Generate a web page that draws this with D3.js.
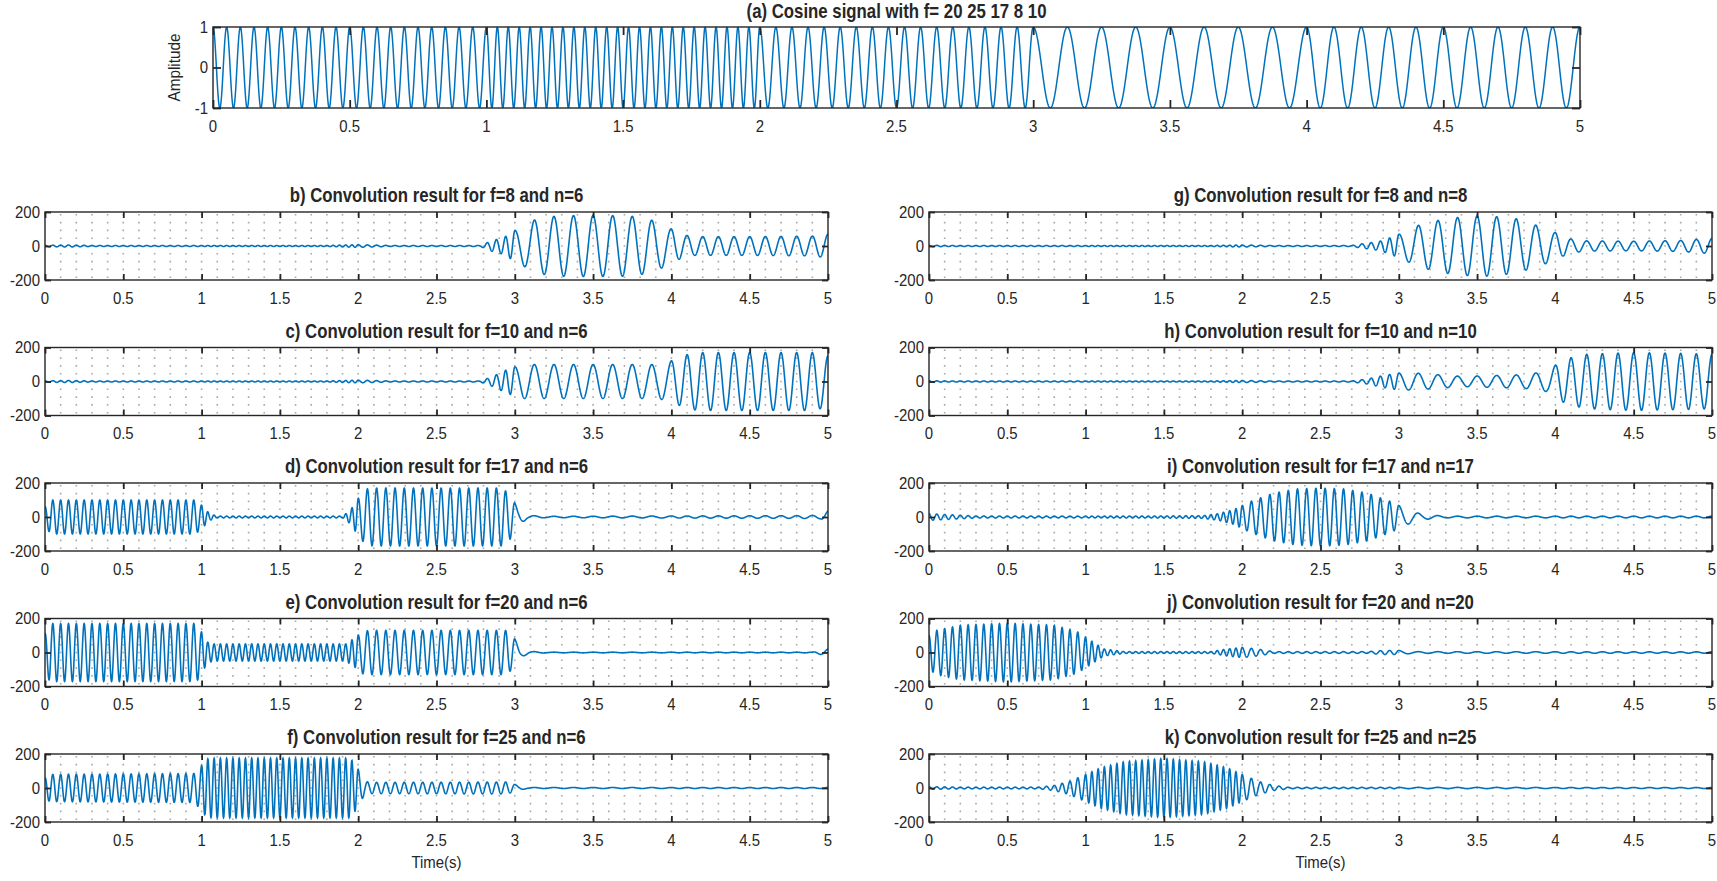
<!DOCTYPE html>
<html>
<head>
<meta charset="utf-8">
<script src="https://cdn.jsdelivr.net/npm/d3@7/dist/d3.min.js"></script>
<style>
	body { margin: 0; background: #fff; }
	text { font-family: "Liberation Sans", Arial, Helvetica, sans-serif; fill: #262626; }
	.title { font-weight: bold; font-size: 20px; }
	.tick-label { font-size: 17px; }
</style>
</head>
<body>
<svg id="fig" width="1717" height="881"></svg>
<script>

// input signal: one second per segment, frequency (Hz) from the top title
var segStart = [0, 1, 2, 3, 4];
var segFreq = [20, 25, 17, 8, 10];

var xTicks = [0, 0.5, 1, 1.5, 2, 2.5, 3, 3.5, 4, 4.5, 5];
var xTickLabels = ["0", "0.5", "1", "1.5", "2", "2.5", "3", "3.5", "4", "4.5", "5"];
var xMinor = [0.1, 0.2, 0.3, 0.4, 0.5, 0.6, 0.7, 0.8, 0.9, 1, 1.1, 1.2, 1.3, 1.4, 1.5, 1.6, 1.7, 1.8, 1.9, 2,
	2.1, 2.2, 2.3, 2.4, 2.5, 2.6, 2.7, 2.8, 2.9, 3, 3.1, 3.2, 3.3, 3.4, 3.5, 3.6, 3.7, 3.8, 3.9, 4,
	4.1, 4.2, 4.3, 4.4, 4.5, 4.6, 4.7, 4.8, 4.9];
var sigTicks = [-1, 0, 1];
var convTicks = [-200, 0, 200];

// envelope of each convolution result: [time (s), amplitude]
var envB = [[0,4],[0.15,6],[0.3,3],[1.8,3],[2.0,8],[2.2,3],[2.78,3],[2.85,30],[2.93,50],[3.0,90],[3.07,125],[3.13,155],[3.2,170],[3.3,178],[3.5,180],[3.7,178],[3.8,170],[3.88,150],[3.95,125],[4.02,90],[4.08,65],[4.15,55],[4.5,55],[4.9,58],[5,70]];
var envC = [[0,4],[0.15,6],[0.3,3],[1.8,3],[2.0,8],[2.2,3],[2.78,3],[2.86,30],[2.95,70],[3.05,100],[3.9,100],[3.97,110],[4.05,140],[4.12,165],[4.2,170],[4.9,170],[5,150]];
var envD = [[0,60],[0.04,100],[0.96,100],[1.0,70],[1.05,20],[1.1,5],[1.9,5],[1.95,40],[2.0,110],[2.05,165],[2.1,170],[2.92,170],[2.97,130],[3.02,50],[3.08,10],[3.2,4],[4,6],[4.8,8],[4.95,10],[5,35]];
var envE = [[0,110],[0.03,170],[0.97,170],[1.0,120],[1.04,60],[1.08,50],[1.92,50],[1.97,80],[2.03,125],[2.08,130],[2.95,130],[3.0,80],[3.04,25],[3.1,6],[3.2,2],[4.9,2],[5,20]];
var envF = [[0,60],[0.03,80],[0.95,85],[0.99,120],[1.03,170],[1.07,175],[1.95,175],[2.0,110],[2.04,40],[2.08,33],[2.95,35],[3.02,15],[3.08,3],[5,3]];
var envG = [[0,4],[0.2,3],[1.8,3],[2.0,6],[2.2,3],[2.7,3],[2.78,15],[2.87,25],[2.95,50],[3.03,80],[3.12,120],[3.2,140],[3.3,160],[3.45,175],[3.55,178],[3.65,170],[3.75,160],[3.85,130],[3.95,100],[4.02,70],[4.1,40],[4.2,30],[4.5,28],[4.8,32],[5,45]];
var envH = [[0,4],[0.2,3],[1.8,3],[2.0,6],[2.2,3],[2.7,3],[2.8,15],[2.9,35],[3.0,50],[3.1,50],[3.25,40],[3.4,30],[3.6,35],[3.8,40],[3.95,60],[4.02,110],[4.1,140],[4.2,160],[4.5,170],[4.8,165],[5,160]];
var envI = [[0,20],[0.1,15],[0.3,6],[1.0,5],[1.5,6],[1.75,8],[1.85,20],[1.95,45],[2.05,90],[2.2,140],[2.35,165],[2.5,170],[2.65,165],[2.8,140],[2.95,90],[3.05,45],[3.15,15],[3.3,5],[5,5]];
var envJ = [[0,100],[0.05,130],[0.2,160],[0.5,172],[0.8,160],[0.95,120],[1.05,60],[1.12,20],[1.25,5],[1.8,5],[1.9,20],[2.0,30],[2.1,20],[2.2,5],[2.8,5],[2.9,12],[3.0,12],[3.1,5],[5,4]];
var envK = [[0,8],[0.2,5],[0.7,5],[0.8,15],[0.9,40],[1.0,80],[1.1,120],[1.25,155],[1.5,172],[1.75,155],[1.9,120],[2.0,80],[2.1,40],[2.2,15],[2.3,4],[5,3]];

var leftTitles = ["b) Convolution result for f=8 and n=6", "c) Convolution result for f=10 and n=6",
	"d) Convolution result for f=17 and n=6", "e) Convolution result for f=20 and n=6",
	"f) Convolution result for f=25 and n=6"];
var rightTitles = ["g) Convolution result for f=8 and n=8", "h) Convolution result for f=10 and n=10",
	"i) Convolution result for f=17 and n=17", "j) Convolution result for f=20 and n=20",
	"k) Convolution result for f=25 and n=25"];
var leftEnvs = [envB, envC, envD, envE, envF];
var rightEnvs = [envG, envH, envI, envJ, envK];

var lineColor = "#0072BD";
var axisColor = "#262626";
var svg = d3.select("#fig");

/*
 *  Text squeezed sideways, like the narrow lettering of the figure
 */
function label(g, x, y, str, cls, anchor, sx) {
	return g.append("text").attr("class", cls)
		.attr("transform", "translate(" + x + "," + y + ") scale(" + sx + ",1)")
		.attr("dy", "0.35em")
		.attr("text-anchor", anchor)
		.text(str);
}

/*
 *  Sample the waveform: envelope times the cosine of the running segment
 */
function waveform(env) {
	var amp = d3.scaleLinear()
		.domain(env.map(function(d){ return d[0]; }))
		.range(env.map(function(d){ return d[1]; }))
		.clamp(true);
	var seg = d3.scaleThreshold().domain(segStart.slice(1)).range(segFreq);
	return d3.range(0, 5001).map(function(i){
		var t = i / 1000;
		return [t, amp(t) * Math.cos(2 * Math.PI * seg(t) * t)];
	});
}

/*
 *  One subplot, MATLAB style: box, inward ticks, optional dotted minor grid
 */
function Panel(box, yDomain, yTicks, title, data, opts) {
	var vis = this;
	vis.w = box.right - box.left;
	vis.h = box.bottom - box.top;
	vis.g = svg.append("g").attr("transform", "translate(" + box.left + "," + box.top + ")");
	vis.x = d3.scaleLinear().domain([0, 5]).range([0, vis.w]);
	vis.y = d3.scaleLinear().domain(yDomain).range([vis.h, 0]);
	vis.id = "clip" + (Panel.count = (Panel.count || 0) + 1);

	if (opts.grid) {
		vis.g.append("g").selectAll("line").data(xMinor)
			.enter().append("line")
			.attr("x1", function(d){ return vis.x(d); }).attr("x2", function(d){ return vis.x(d); })
			.attr("y1", 2).attr("y2", vis.h)
			.attr("stroke", "#a8a8a8").attr("stroke-width", 1.6).attr("stroke-dasharray", "1.6,6.2");
	}

	vis.g.append("clipPath").attr("id", vis.id)
		.append("rect").attr("width", vis.w).attr("height", vis.h);

	var line = d3.line().x(function(d){ return vis.x(d[0]); }).y(function(d){ return vis.y(d[1]); });
	vis.g.append("path").datum(data)
		.attr("clip-path", "url(#" + vis.id + ")")
		.attr("d", line)
		.attr("fill", "none")
		.attr("stroke", lineColor)
		.attr("stroke-width", opts.lineWidth);

	// box
	vis.g.append("rect").attr("width", vis.w).attr("height", vis.h)
		.attr("fill", "none").attr("stroke", axisColor).attr("stroke-width", 1.4);

	// inward ticks, both sides
	var tl = opts.tickLen;
	var xa = d3.axisBottom(vis.x).tickValues(xTicks).tickSize(-tl).tickFormat("");
	var xt = d3.axisTop(vis.x).tickValues(xTicks).tickSize(-tl).tickFormat("");
	var yl = d3.axisLeft(vis.y).tickValues(yTicks).tickSize(-tl).tickFormat("");
	var yr = d3.axisRight(vis.y).tickValues(yTicks).tickSize(-tl).tickFormat("");
	[[xa, "0," + vis.h], [xt, "0,0"], [yl, "0,0"], [yr, vis.w + ",0"]].forEach(function(a){
		var ax = vis.g.append("g").attr("transform", "translate(" + a[1] + ")").call(a[0]);
		ax.select(".domain").remove();
		ax.selectAll("line").attr("stroke", axisColor).attr("stroke-width", 1.8);
	});

	// tick labels
	xTicks.forEach(function(d, i){
		label(vis.g, vis.x(d), vis.h + 18, xTickLabels[i], "tick-label", "middle", 0.88);
	});
	yTicks.forEach(function(d){
		label(vis.g, -5, vis.y(d), d, "tick-label", "end", 0.88);
	});

	vis.title = label(vis.g, vis.w / 2, -17, title, "title", "middle", 0.84);
}

/*
 *  (a) input signal
 */
var sigPanel = new Panel({left: 213, right: 1580, top: 27, bottom: 108}, [-1, 1], sigTicks,
	"(a) Cosine signal with f= 20 25 17 8 10",
	waveform([[0, 1], [5, 1]]), {grid: false, lineWidth: 1.5, tickLen: 8});
sigPanel.title.attr("transform", "translate(" + (sigPanel.w / 2) + ",-16) scale(0.84,1)");
sigPanel.g.append("text").attr("class", "tick-label")
	.attr("transform", "translate(-33," + (sigPanel.h / 2) + ") rotate(-90) scale(0.9,1)")
	.attr("text-anchor", "middle")
	.text("Amplitude");

/*
 *  (b)-(k) convolution results
 */
var rowTop = [212, 347.5, 483, 618.5, 754];
var rowH = 68;
var cols = [{left: 45, right: 828, titles: leftTitles, envs: leftEnvs},
	{left: 929, right: 1712, titles: rightTitles, envs: rightEnvs}];

cols.forEach(function(c){
	rowTop.forEach(function(t, r){
		var p = new Panel({left: c.left, right: c.right, top: t, bottom: t + rowH}, [-200, 200], convTicks,
			c.titles[r], waveform(c.envs[r]), {grid: true, lineWidth: 1.6, tickLen: 6});
		if (r === rowTop.length - 1) {
			label(p.g, p.w / 2, p.h + 40, "Time(s)", "tick-label", "middle", 0.88);
		}
	});
});

</script>
</body>
</html>
